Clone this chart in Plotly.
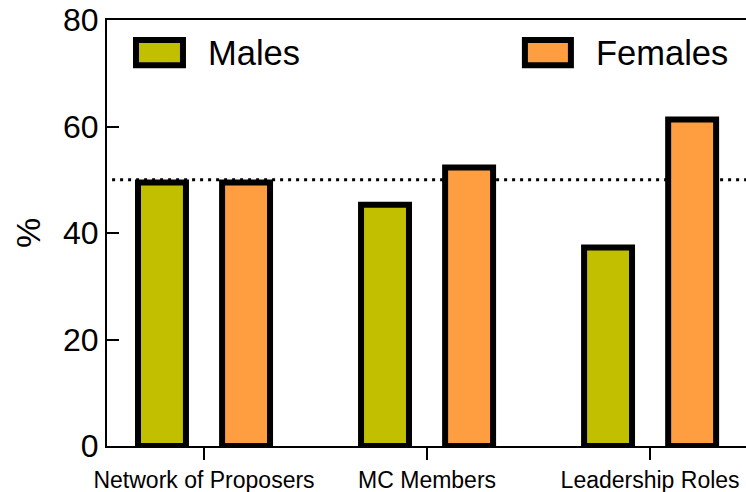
import plotly.graph_objects as go

categories = ["Network of Proposers", "MC Members", "Leadership Roles"]
males = [49.5, 45.3, 37.3]
females = [49.5, 52.3, 61.3]
parity_line = 50

MALE_COLOR = "#C1BF00"
FEMALE_COLOR = "#FF9E40"
FONT = "Liberation Sans, Arial, Helvetica, sans-serif"

fig = go.Figure()
fig.add_trace(go.Bar(
    x=categories, y=males, name="Males",
    width=0.215, offset=-0.296,
    marker=dict(color=MALE_COLOR, line=dict(color="black", width=6)),
))
fig.add_trace(go.Bar(
    x=categories, y=females, name="Females",
    width=0.215, offset=0.081,
    marker=dict(color=FEMALE_COLOR, line=dict(color="black", width=6)),
))

# dotted 50% reference line
fig.add_shape(type="line", xref="paper", yref="y", x0=0.008, x1=1,
              y0=parity_line, y1=parity_line, layer="below",
              line=dict(color="black", width=3, dash="3px,5px"))

# hand-drawn legend (big boxed swatches)
for x0, x1, color, label, tx in [
    (0.0454, 0.1189, MALE_COLOR, "Males", 0.155),
    (0.654, 0.726, FEMALE_COLOR, "Females", 0.762),
]:
    fig.add_shape(type="rect", xref="paper", yref="paper",
                  x0=x0, x1=x1, y0=0.894, y1=0.953,
                  fillcolor=color, line=dict(color="black", width=6))
    fig.add_annotation(xref="paper", yref="paper", x=tx, y=0.922,
                       text=label, showarrow=False, xanchor="left",
                       yanchor="middle", font=dict(size=34.5, color="black"))

fig.update_layout(
    width=746, height=492,
    margin=dict(l=107, r=0, t=20, b=46, autoexpand=False),
    plot_bgcolor="white", paper_bgcolor="white",
    font=dict(family=FONT, color="black"),
    showlegend=False,
)
fig.update_xaxes(
    range=[-0.435, 2.43], showgrid=False, zeroline=False, automargin=False,
    showline=True, linecolor="black", linewidth=2, mirror=True,
    ticks="outside", ticklen=12, tickwidth=2, tickcolor="black",
    tickfont=dict(size=23),
)
fig.update_yaxes(
    range=[0, 80], dtick=20, showgrid=False, zeroline=False, automargin=False,
    showline=True, linecolor="black", linewidth=2,
    ticks="inside", ticklen=12, tickwidth=2, tickcolor="black",
    tickfont=dict(size=32),
    title=dict(text="%", font=dict(size=34), standoff=12),
)

# page body has a default 8px margin; drop it so the figure fills the window
fig.write_html("out.html", config={"displayModeBar": False},
               post_script="document.body.style.margin='0';")
